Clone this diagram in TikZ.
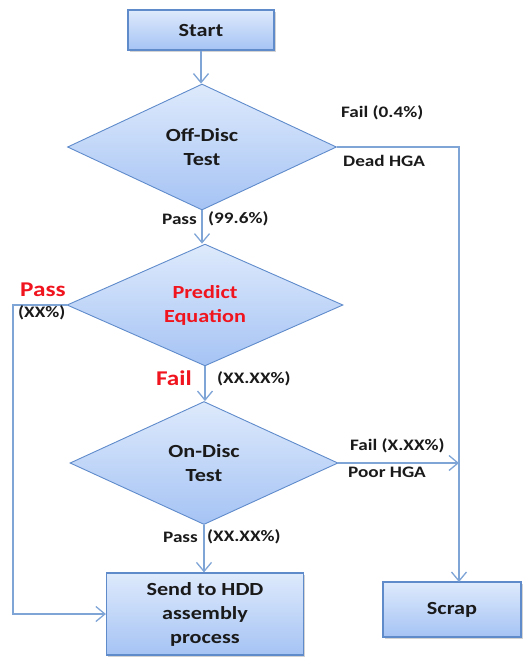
\documentclass[tikz,border=0pt]{standalone}
\usepackage{fontspec}
\setmainfont{Carlito}
% wide bold face used for every text in the chart
\newfontfamily\chartfont{Carlito Bold}[FakeStretch=1.2]
\usetikzlibrary{shapes.geometric,arrows.meta,shadows}
\definecolor{fillTop}{HTML}{DEEAFC}
\definecolor{fillBot}{HTML}{A5C3F4}
\definecolor{edgeBlue}{HTML}{5F8BCB}
\definecolor{lineBlue}{HTML}{7FA4D6}
\definecolor{passRed}{HTML}{F0141E}
\definecolor{txt}{HTML}{1A1A1A}
\tikzset{
  boxnode/.style={rectangle, draw=edgeBlue, line width=1.2pt, top color=fillTop, bottom color=fillBot,
    align=center, font=\chartfont\fontsize{18.5}{24}\selectfont, text=txt,
    drop shadow={opacity=0.35, shadow xshift=1.5pt, shadow yshift=-1.5pt}},
  decision/.style={diamond, draw=edgeBlue, line width=0.9pt, top color=fillTop, bottom color=fillBot,
    inner sep=0pt, align=center, font=\chartfont\fontsize{18.5}{24}\selectfont, text=txt},
  flow/.style={draw=lineBlue, line width=1.3pt, -{Straight Barb[length=9pt,width=15pt,line width=1.3pt]}},
  lbl/.style={font=\chartfont\fontsize{16}{18}\selectfont, text=txt, inner sep=0pt},
  redlbl/.style={font=\chartfont\fontsize{21}{23}\selectfont, text=passRed, inner sep=0pt}
}
\begin{document}
\begin{tikzpicture}[x=1pt,y=1pt]
\useasboundingbox (0,0) rectangle (523,-657);

% process boxes
\node[boxnode, minimum width=146pt, minimum height=40pt] (start) at (201,-30) {Start};
\node[boxnode, minimum width=197pt, minimum height=82pt] (send) at (205,-614)
  {Send to HDD\\assembly\\process};
\node[boxnode, minimum width=138pt, minimum height=55pt] (scrap) at (452,-609.5) {Scrap};

% decisions
\node[decision, minimum width=269pt, minimum height=126pt] (off) at (202,-147) {Off-Disc\\Test};
\node[decision, minimum width=276pt, minimum height=120pt, text=passRed] (pred) at (205,-305) {Predict\\Equation};
\node[decision, minimum width=268pt, minimum height=123pt] (on) at (204,-463) {On-Disc\\Test};

% routing corners
\coordinate (failcorner) at (459,-147);
\coordinate (failjoin) at (459,-463);
\coordinate (scraptop) at (459,-582);
\coordinate (passleft) at (13,-305);
\coordinate (passbottom) at (13,-614);

% connectors
\draw[flow] (start.south) -- (start.south |- off.north);
\draw[flow] (off.south) -- (off.south |- pred.north);
\draw[flow] (pred.south) -- (pred.south |- on.north);
\draw[flow] (on.south) -- (on.south |- send.north);
\draw[flow] (off.east) -- (failcorner) -- (scraptop);
\draw[flow] (on.east) -- (failjoin);
\draw[flow] (pred.west) -- (passleft) -- (passbottom) -- (send.west);

% branch labels
\node[lbl, anchor=west] (l1) at (341,-113) {Fail (0.4\%)};
\node[lbl, anchor=west] (l2) at (343,-161) {Dead HGA};
\node[lbl, anchor=east] (l3) at (197,-219) {Pass};
\node[lbl, anchor=west] (l4) at (208,-219) {(99.6\%)};
\node[redlbl, anchor=west] (l5) at (20,-290) {Pass};
\node[lbl, anchor=west] (l6) at (18,-313) {(XX\%)};
\node[redlbl, anchor=east] (l7) at (192,-378) {Fail};
\node[lbl, anchor=west] (l8) at (217,-379) {(XX.XX\%)};
\node[lbl, anchor=west] (l9) at (350,-446) {Fail (X.XX\%)};
\node[lbl, anchor=west] (l10) at (348,-472) {Poor HGA};
\node[lbl, anchor=east] (l11) at (198,-537) {Pass};
\node[lbl, anchor=west] (l12) at (207,-537) {(XX.XX\%)};
\end{tikzpicture}
\end{document}
